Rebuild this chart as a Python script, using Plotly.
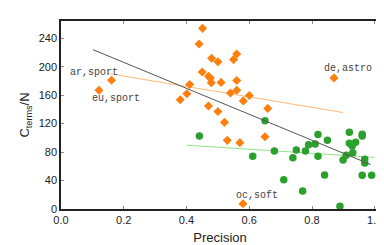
import plotly.graph_objects as go

# ---- data ----
orange_x = [0.121, 0.161, 0.380, 0.401, 0.410, 0.451, 0.440, 0.480, 0.500, 0.560, 0.550,
            0.450, 0.470, 0.476, 0.479, 0.510, 0.560, 0.560, 0.540, 0.600, 0.581, 0.659,
            0.470, 0.500, 0.521, 0.650, 0.530, 0.570, 0.870, 0.580]
orange_y = [167, 181, 153.5, 162, 175, 254, 232, 212, 207, 218, 210,
            192.6, 186.6, 184, 177.4, 178, 180.7, 166.9, 163, 159.5, 152, 141.4,
            144.8, 137, 121.8, 101.5, 96.5, 93.3, 184.3, 7.3]

green_x = [0.441, 0.650, 0.611, 0.680, 0.710, 0.739, 0.750, 0.770, 0.779, 0.789, 0.810,
           0.819, 0.819, 0.840, 0.849, 0.889, 0.899, 0.909, 0.919, 0.919, 0.928, 0.939,
           0.930, 0.960, 0.960, 0.968, 0.968, 0.960, 0.990]
green_y = [102.5, 124, 74, 81.4, 41, 72, 83, 25.2, 81.4, 90.5, 91.4,
           104.8, 74, 47.7, 96.5, 4, 69, 75.6, 108, 92.4, 88.7, 94,
           79, 105, 102.5, 70, 64.8, 47.3, 47.3]

# labelled points: (label, x, y)
label_text = ["ar,sport", "eu,sport", "de,astro", "oc,soft"]
label_x = [0.161, 0.121, 0.870, 0.580]
label_y = [181, 167, 184.3, 7.3]

# trend lines (end points)
trend_all_x = [0.102, 0.987]
trend_all_y = [224, 62.5]
trend_orange_x = [0.147, 0.899]
trend_orange_y = [190.7, 135.6]
trend_green_x = [0.401, 1.0]
trend_green_y = [89.7, 72.6]

x_ticks = [0.0, 0.2, 0.4, 0.6, 0.8, 1.0]
x_tick_text = ["0.0", "0.2", "0.4", "0.6", "0.8", "1.0"]
y_ticks = [0, 40, 80, 120, 160, 200, 240]

ORANGE = "#ff7f0e"
GREEN = "#2ca02c"

fig = go.Figure()
fig.add_trace(go.Scatter(x=trend_orange_x, y=trend_orange_y, mode="lines",
                         line=dict(color="#ffbb78", width=1), hoverinfo="skip"))
fig.add_trace(go.Scatter(x=trend_green_x, y=trend_green_y, mode="lines",
                         line=dict(color="#98df8a", width=1), hoverinfo="skip"))
fig.add_trace(go.Scatter(x=orange_x, y=orange_y, mode="markers",
                         marker=dict(symbol="diamond", size=7, color=ORANGE)))
fig.add_trace(go.Scatter(x=green_x, y=green_y, mode="markers",
                         marker=dict(symbol="circle", size=7.5, color=GREEN)))
fig.add_trace(go.Scatter(x=trend_all_x, y=trend_all_y, mode="lines",
                         line=dict(color="#555555", width=1), hoverinfo="skip"))

shifts = {"ar,sport": (-44, 8), "eu,sport": (-9, -8), "de,astro": (-12, 9), "oc,soft": (-9, 8)}
for t, x, y in zip(label_text, label_x, label_y):
    dx, dy = shifts[t]
    fig.add_annotation(x=x, y=y, text=t, showarrow=False, xanchor="left", yanchor="middle",
                       xshift=dx, yshift=dy,
                       font=dict(family="Liberation Mono", size=10, color="#444444"))

fig.update_layout(
    width=384, height=245,
    margin=dict(l=53, r=10, t=13, b=41),
    plot_bgcolor="white", paper_bgcolor="white",
    showlegend=False,
    font=dict(family="Liberation Sans", size=11, color="#222222"),
)
fig.update_xaxes(range=[0, 1.0135], tickvals=x_ticks, ticktext=x_tick_text,
                 ticks="inside", ticklen=3, tickcolor="#888888", showgrid=False, zeroline=False,
                 showline=True, linecolor="#222222", linewidth=1.5, mirror="ticks",
                 title=dict(text="Precision", standoff=8))
fig.update_yaxes(range=[0, 264.3], tickvals=y_ticks,
                 ticks="inside", ticklen=3, tickcolor="#888888", showgrid=False, zeroline=False,
                 showline=True, linecolor="#222222", linewidth=1.5, mirror=True,
                 title=dict(text="C<sub>terms</sub>/N", standoff=6))

fig.write_html("out.html")
